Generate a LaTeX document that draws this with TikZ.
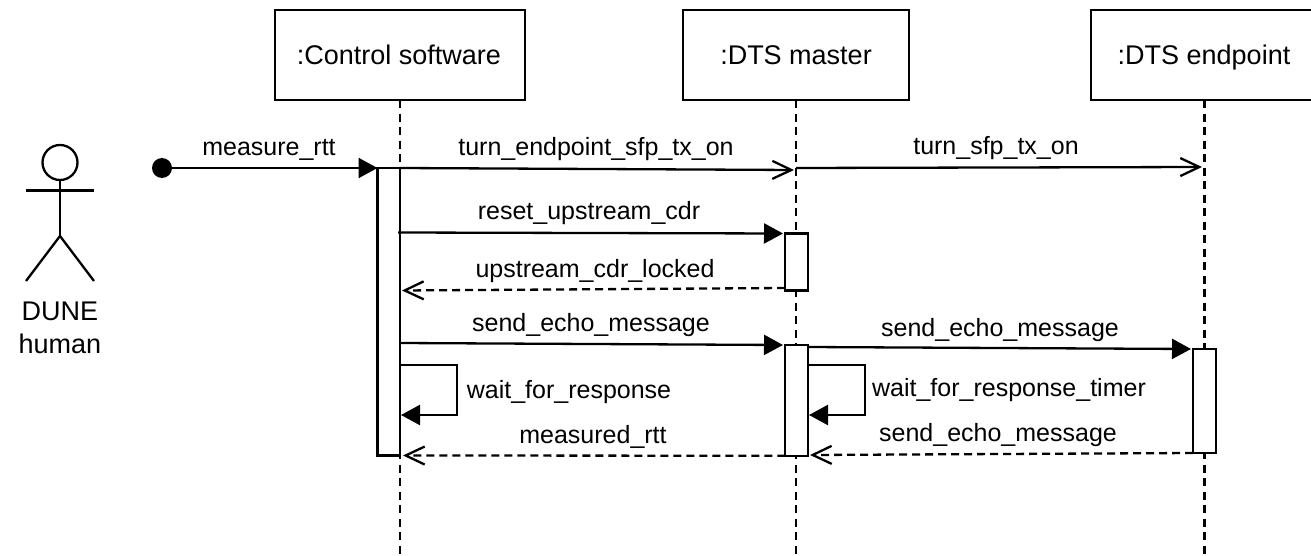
\documentclass[tikz,border=0pt]{standalone}
\usepackage{fontspec}
\setmainfont{Liberation Sans}
\usetikzlibrary{arrows.meta}
\tikzset{
  lifebox/.style={draw,fill=white,line width=2.3pt,minimum height=90.5pt,inner sep=0pt,outer sep=0pt},
  actbar/.style={draw,fill=white,line width=2.3pt,minimum width=22.5pt,inner sep=0pt,outer sep=0pt},
  lifeline/.style={line width=2.3pt,dash pattern=on 8pt off 5.5pt},
  call/.style={line width=2.3pt,-{Triangle[length=19pt,width=20pt]}},
  async/.style={line width=2.3pt,-{Straight Barb[length=19pt,width=18pt]}},
  reply/.style={async,dash pattern=on 8pt off 5pt},
  limb/.style={line width=2.3pt},
  msg/.style={anchor=base,inner sep=0pt},
  bigmsg/.style={msg,font=\fontsize{27}{31}\selectfont}
}
\begin{document}
\begin{tikzpicture}[x=1pt,y=-1pt,font=\fontsize{25}{29}\selectfont]
  \clip (0,0) rectangle (1311,556);
  % boxes and life lines
  \node[lifebox,minimum width=250pt] (ctrlbox) at (400,55) {};
  \node[lifebox,minimum width=226pt] (masterbox) at (796,55) {};
  \node[lifebox,minimum width=227pt] (endpointbox) at (1204.5,55) {};
  \node[bigmsg] (ctrltext) at (399,65) {:Control software};
  \node[bigmsg] (mastertext) at (796,65) {:DTS master};
  \node[bigmsg] (endpointtext) at (1204,65) {:DTS endpoint};
  \coordinate (ctrlend) at (ctrlbox.center |- 0,556);
  \coordinate (masterend) at (masterbox.center |- 0,556);
  \coordinate (endpointend) at (endpointbox.center |- 0,556);
  \draw[lifeline] (ctrlbox.south) -- (ctrlend);
  \draw[lifeline] (masterbox.south) -- (masterend);
  \draw[lifeline] (endpointbox.south) -- (endpointend);

  % activation bars
  \node[actbar,minimum height=287.5pt] (ctrlbar) at (388.75,311.75) {};
  \node[actbar,minimum height=57pt] (cdrbar) at (796.5,262) {};
  \node[actbar,minimum height=111pt] (echobar) at (796.5,400.25) {};
  \node[actbar,minimum height=104pt] (endpointbar) at (1204.5,401) {};

  % the human
  \node[draw,circle,line width=2.3pt,minimum size=35pt,inner sep=0pt,outer sep=0pt] (head) at (60,162.5) {};
  \coordinate (armleft) at (26,190.5);
  \coordinate (armright) at (94,190.5);
  \coordinate (hip) at (60,236);
  \coordinate (footleft) at (26,281);
  \coordinate (footright) at (94,281);
  \draw[limb] (head.south) -- (hip);
  \draw[limb] (armleft) -- (armright);
  \draw[limb] (footleft) -- (hip) -- (footright);
  \node[bigmsg] (dune) at (60,320) {DUNE};
  \node[bigmsg] (human) at (60,353) {human};

  % named ends of the messages
  \coordinate (turnmid) at (794,170);
  \coordinate (masterstart) at (796,168);
  \coordinate (endpointin) at (1202,167);
  \coordinate (resetout) at (398,232.5);
  \coordinate (lockedin) at (402,290.5);
  \coordinate (lockedout) at (785,288);
  \coordinate (echoout) at (400,343);
  \coordinate (echoin) at (783,345);
  \coordinate (echonext) at (808,347);
  \coordinate (echoend) at (1191,349);
  \coordinate (rttin) at (403,455.5);
  \coordinate (backin) at (810,455);
  \coordinate (backout) at (1193,453);
  \coordinate (waitout) at (400,365);
  \coordinate (waitright) at (457,365);
  \coordinate (waitdown) at (457,415);
  \coordinate (waitin) at (401,415);
  \coordinate (timerout) at (808,365);
  \coordinate (timerright) at (865,365);
  \coordinate (timerdown) at (865,415);
  \coordinate (timerin) at (809,415);
  \coordinate (resetin) at (783,233.5);

  % messages
  \node[circle,fill=black,minimum size=20pt,inner sep=0pt,outer sep=0pt] (startdot) at (162,168) {};
  \draw[call] (startdot) -- (ctrlbar.north west);
  \draw[async] (ctrlbar.north east) -- (turnmid);
  \draw[async] (masterstart) -- (endpointin);
  \draw[call] (resetout) -- (resetin);
  \draw[reply] (lockedout) -- (lockedin);
  \draw[call] (echoout) -- (echoin);
  \draw[call] (echonext) -- (echoend);
  \draw[call] (waitout) -- (waitright) -- (waitdown) -- (waitin);
  \draw[call] (timerout) -- (timerright) -- (timerdown) -- (timerin);
  \draw[reply] (echobar.south west) -- (rttin);
  \draw[reply] (backout) -- (backin);

  % labels
  \node[msg] (rttlabel) at (269,156) {measure\_rtt};
  \node[msg] (turnlabel) at (596,156) {turn\_endpoint\_sfp\_tx\_on};
  \node[msg] (sfplabel) at (996,155) {turn\_sfp\_tx\_on};
  \node[msg] (resetlabel) at (589,219) {reset\_upstream\_cdr};
  \node[msg] (lockedlabel) at (595,277) {upstream\_cdr\_locked};
  \node[msg] (echolabel) at (591,331) {send\_echo\_message};
  \node[msg] (nextlabel) at (1000,336) {send\_echo\_message};
  \node[msg] (waitlabel) at (569,398) {wait\_for\_response};
  \node[msg] (timerlabel) at (1009,396) {wait\_for\_response\_timer};
  \node[msg] (measuredlabel) at (593,443) {measured\_rtt};
  \node[msg] (backlabel) at (998,441) {send\_echo\_message};
\end{tikzpicture}
\end{document}
